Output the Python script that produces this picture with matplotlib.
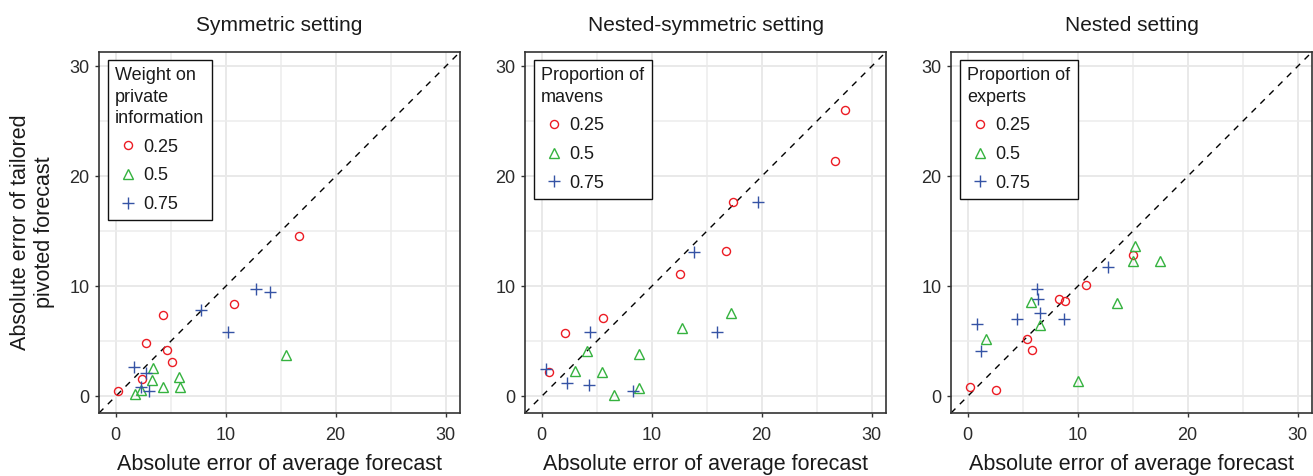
import matplotlib
matplotlib.use('Agg')
import matplotlib.pyplot as plt
import numpy as np

plt.rcParams['font.family'] = ['Liberation Sans', 'DejaVu Sans']

# ---------------- data ----------------
titles = ['Symmetric setting', 'Nested-symmetric setting', 'Nested setting']
legend_titles = ['Weight on\nprivate\ninformation', 'Proportion of\nmavens', 'Proportion of\nexperts']
levels = ['0.25', '0.5', '0.75']

# Symmetric setting
sym_red_x = [16.7, 10.8, 4.3, 2.8, 4.7, 5.1, 2.4, 0.2]
sym_red_y = [14.6, 8.4, 7.4, 4.9, 4.2, 3.1, 1.6, 0.5]
sym_green_x = [15.5, 3.4, 5.8, 3.3, 5.9, 4.3, 1.8, 2.3]
sym_green_y = [3.8, 2.6, 1.8, 1.5, 0.9, 0.9, 0.2, 0.6]
sym_blue_x = [12.8, 14.0, 7.8, 10.2, 1.7, 2.8, 2.3, 3.0]
sym_blue_y = [9.8, 9.5, 7.9, 5.9, 2.7, 2.1, 0.9, 0.5]

# Nested-symmetric setting
nsym_red_x = [27.6, 26.7, 17.4, 16.8, 12.6, 5.6, 2.1, 0.7]
nsym_red_y = [26.0, 21.4, 17.7, 13.2, 11.1, 7.1, 5.8, 2.2]
nsym_green_x = [17.2, 12.8, 4.1, 8.9, 3.0, 5.5, 8.9, 6.6]
nsym_green_y = [7.6, 6.2, 4.1, 3.9, 2.3, 2.2, 0.8, 0.1]
nsym_blue_x = [19.7, 13.9, 15.9, 4.4, 0.4, 2.3, 4.3, 8.3]
nsym_blue_y = [17.7, 13.1, 5.9, 5.9, 2.5, 1.2, 1.0, 0.5]

# Nested setting
nest_red_x = [15.0, 10.8, 8.3, 8.9, 5.4, 5.9, 0.2, 2.6]
nest_red_y = [12.9, 10.1, 8.9, 8.7, 5.2, 4.2, 0.9, 0.6]
nest_green_x = [15.2, 15.0, 13.6, 5.8, 6.6, 1.7, 10.0, 17.5]
nest_green_y = [13.7, 12.3, 8.5, 8.6, 6.5, 5.2, 1.4, 12.3]
nest_blue_x = [12.8, 6.3, 6.4, 6.6, 4.5, 8.8, 0.9, 1.2]
nest_blue_y = [11.8, 9.8, 8.9, 7.6, 7.0, 7.0, 6.6, 4.1]

panels = [
    [(sym_red_x, sym_red_y), (sym_green_x, sym_green_y), (sym_blue_x, sym_blue_y)],
    [(nsym_red_x, nsym_red_y), (nsym_green_x, nsym_green_y), (nsym_blue_x, nsym_blue_y)],
    [(nest_red_x, nest_red_y), (nest_green_x, nest_green_y), (nest_blue_x, nest_blue_y)],
]

colors = ['#ec1c24', '#35b23f', '#3553a5']
markers = ['o', '^', '+']
msizes = [5.8, 7.5, 8.5]

# ---------------- plot ----------------
W, H = 1313, 476
fig = plt.figure(figsize=(W / 100, H / 100), dpi=100)

lefts = [99, 525, 951]
ax_w, ax_h = 361, 361
ax_bottom = 413
lim = (-1.5, 31.3)

for i in range(3):
    ax = fig.add_axes([lefts[i] / W, (H - ax_bottom) / H, ax_w / W, ax_h / H])
    ax.set_xlim(lim)
    ax.set_ylim(lim)
    ax.set_xticks([0, 10, 20, 30])
    ax.set_yticks([0, 10, 20, 30])
    ax.set_xticks([5, 15, 25], minor=True)
    ax.set_yticks([5, 15, 25], minor=True)
    ax.grid(True, which='major', color='#e9e9e9', linewidth=1.4)
    ax.grid(True, which='minor', color='#ececec', linewidth=1.1)
    ax.set_axisbelow(True)
    ax.tick_params(which='major', length=3, width=1, color='#333333',
                   labelsize=13, labelcolor='#2b2b2b', pad=4)
    ax.tick_params(axis='x', which='major', pad=7)
    ax.tick_params(which='minor', length=0)
    for sp in ax.spines.values():
        sp.set_color('#333333')
        sp.set_linewidth(1.2)

    # diagonal y = x
    ax.plot(lim, lim, color='black', linestyle=(0, (4.5, 4.5)), linewidth=1.0, zorder=2)

    for j in range(3):
        xs, ys = panels[i][j]
        ax.plot(xs, ys, linestyle='none', marker=markers[j], markersize=msizes[j],
                markerfacecolor='none', markeredgecolor=colors[j],
                markeredgewidth=1.0, label=levels[j], zorder=3)

    ax.set_title(titles[i], fontsize=15, color='#1a1a1a', pad=15)
    ax.set_xlabel('Absolute error of average forecast', fontsize=15.5, color='#1a1a1a', labelpad=7)
    if i == 0:
        ax.set_ylabel('Absolute error of tailored\npivoted forecast', fontsize=15.5,
                      color='#1a1a1a', labelpad=10)

    leg = ax.legend(title=legend_titles[i], loc='upper left',
                    bbox_to_anchor=(9 / ax_w, 1 - 8 / ax_h), borderaxespad=0,
                    fontsize=13, title_fontsize=13, alignment='left',
                    frameon=True, fancybox=False, edgecolor='#111111',
                    framealpha=1, handlelength=1.4, handletextpad=0.15,
                    labelspacing=0.65, borderpad=0.4)
    leg.get_frame().set_linewidth(1.0)
    leg.get_title().set_linespacing(1.33)
    leg.get_title().set_color('#1a1a1a')
    for t in leg.get_texts():
        t.set_color('#1a1a1a')

fig.savefig('out.png', dpi=100)
